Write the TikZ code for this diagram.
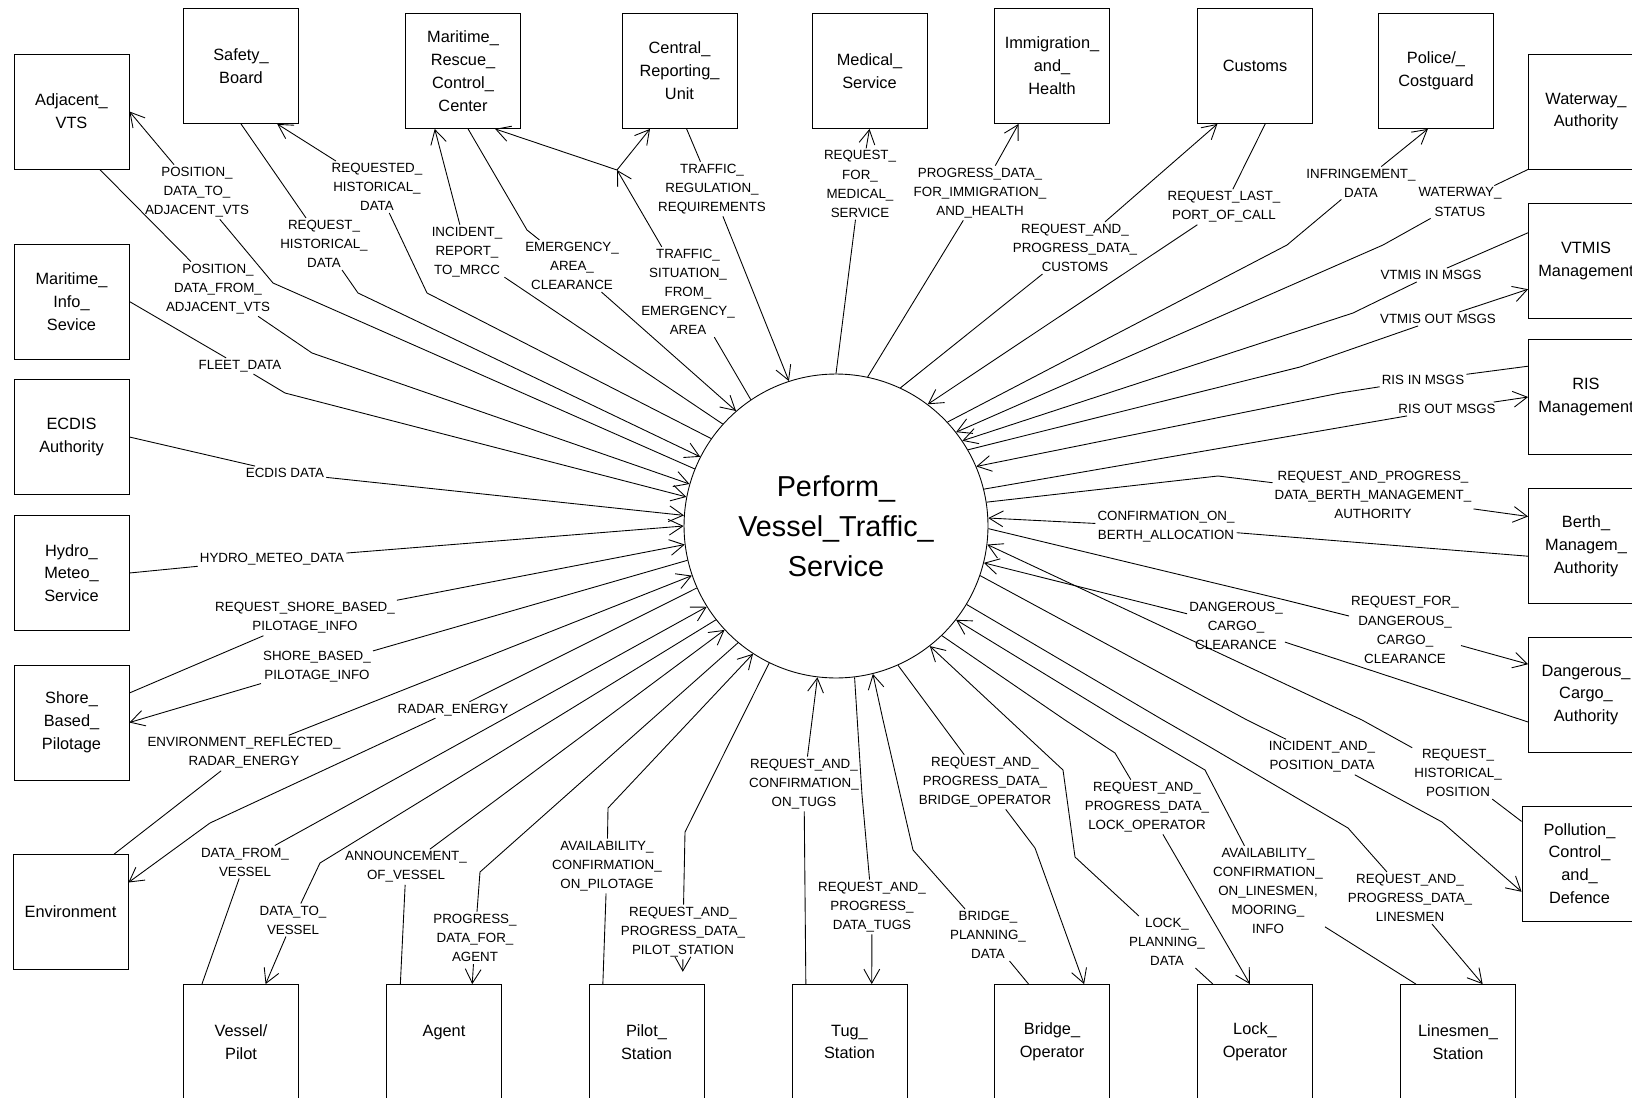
\documentclass[tikz,border=0pt]{standalone}
\usepackage{fontspec}
\setmainfont{Liberation Sans}
\usetikzlibrary{arrows.meta}
\begin{document}
\begin{tikzpicture}[x=0.02cm,y=-0.02cm,line width=0.5pt,
  ext/.style={draw,minimum width=2.3cm,minimum height=2.3cm,align=center,inner sep=1pt,font=\fontsize{9.3}{13}\selectfont},
  proc/.style={draw,circle,minimum size=6.08cm,inner sep=0pt,align=center,font=\fontsize{16.4}{22.7}\selectfont},
  lbl/.style={align=center,inner sep=1pt,font=\fontsize{7.6}{10.9}\selectfont},
  flow/.style={-{Straight Barb[length=8pt,width=9pt]}}]
\useasboundingbox (0,0) rectangle (1632,1098);
% process
\node[proc] (vts) at (836,526) {Perform\_\\Vessel\_Traffic\_\\Service};
% terminators
\node[ext] (AdjVTS) at (71.5,111.5) {Adjacent\_\\VTS};
\node[ext] (Safety) at (241,66) {Safety\_\\Board};
\node[ext] (MRCC) at (463,71) {Maritime\_\\Rescue\_\\Control\_\\Center};
\node[ext] (CRU) at (679.5,71) {Central\_\\Reporting\_\\Unit};
\node[ext] (Medical) at (869.5,71) {Medical\_\\Service};
\node[ext] (Immig) at (1052,66) {Immigration\_\\and\_\\Health};
\node[ext] (Customs) at (1255,66) {Customs};
\node[ext] (Police) at (1436,71) {Police/\_\\Costguard};
\node[ext] (Waterway) at (1586,111.5) {Waterway\_\\Authority};
\node[ext] (VTMIS) at (1586,261) {VTMIS\\Management};
\node[ext] (RIS) at (1586,397) {RIS\\Management};
\node[ext] (Berth) at (1586,546) {Berth\_\\Managem\_\\Authority};
\node[ext] (DCA) at (1586,695) {Dangerous\_\\Cargo\_\\Authority};
\node[ext] (Pollution) at (1579.5,863.5) {Pollution\_\\Control\_\\and\_\\Defence};
\node[ext] (MarInfo) at (71.5,301.5) {Maritime\_\\Info\_\\Sevice};
\node[ext] (ECDIS) at (71.5,437) {ECDIS\\Authority};
\node[ext] (Hydro) at (71.5,573) {Hydro\_\\Meteo\_\\Service};
\node[ext] (Shore) at (71.5,722.5) {Shore\_\\Based\_\\Pilotage};
\node[ext] (Env) at (70.5,912) {Environment};
\node[ext] (Vessel) at (241,1042) {Vessel/\\Pilot};
\node[ext] (Agent) at (444,1042) {Agent\\\mbox{}};
\node[ext] (PilotSt) at (646.5,1042) {Pilot\_\\Station};
\node[ext] (Tug) at (849.5,1042) {Tug\_\\Station};
\node[ext] (Bridge) at (1052,1042) {Bridge\_\\Operator};
\node[ext] (Lock) at (1255,1042) {Lock\_\\Operator};
\node[ext] (Linesmen) at (1458,1042) {Linesmen\_\\Station};
% flow labels
\node[lbl] (posTo) at (197,192) {POSITION\_\\DATA\_TO\_\\ADJACENT\_VTS};
\node[lbl] (posFrom) at (218,289) {POSITION\_\\DATA\_FROM\_\\ADJACENT\_VTS};
\node[lbl] (reqHist) at (324,244) {REQUEST\_\\HISTORICAL\_\\DATA};
\node[lbl] (requested) at (377,187) {REQUESTED\_\\HISTORICAL\_\\DATA};
\node[lbl] (incident) at (467,252) {INCIDENT\_\\REPORT\_\\TO\_MRCC};
\node[lbl] (emergency) at (572,266) {EMERGENCY\_\\AREA\_\\CLEARANCE};
\node[lbl] (trafSit) at (688,292) {TRAFFIC\_\\SITUATION\_\\FROM\_\\EMERGENCY\_\\AREA};
\node[lbl] (trafReg) at (712,189) {TRAFFIC\_\\REGULATION\_\\REQUIREMENTS};
\node[lbl] (medical) at (860,184) {REQUEST\_\\FOR\_\\MEDICAL\_\\SERVICE};
\node[lbl] (immig) at (980,193) {PROGRESS\_DATA\_\\FOR\_IMMIGRATION\_\\AND\_HEALTH};
\node[lbl] (customsReq) at (1075,248) {REQUEST\_AND\_\\PROGRESS\_DATA\_\\CUSTOMS};
\node[lbl] (lastPort) at (1224,207) {REQUEST\_LAST\_\\PORT\_OF\_CALL};
\node[lbl] (infring) at (1361,183) {INFRINGEMENT\_\\DATA};
\node[lbl] (waterway) at (1460,202) {WATERWAY\_\\STATUS};
\node[lbl] (vtmisIn) at (1431,275) {VTMIS IN MSGS};
\node[lbl] (vtmisOut) at (1438,319) {VTMIS OUT MSGS};
\node[lbl] (risIn) at (1423,380) {RIS IN MSGS};
\node[lbl] (risOut) at (1447,409) {RIS OUT MSGS};
\node[lbl] (reqBerth) at (1373,495) {REQUEST\_AND\_PROGRESS\_\\DATA\_BERTH\_MANAGEMENT\_\\AUTHORITY};
\node[lbl] (confBerth) at (1166,527) {CONFIRMATION\_ON\_\\BERTH\_ALLOCATION};
\node[lbl] (reqDang) at (1405,630) {REQUEST\_FOR\_\\DANGEROUS\_\\CARGO\_\\CLEARANCE};
\node[lbl] (dangCl) at (1236,626) {DANGEROUS\_\\CARGO\_\\CLEARANCE};
\node[lbl] (incPos) at (1322,757) {INCIDENT\_AND\_\\POSITION\_DATA};
\node[lbl] (reqHistPos) at (1458,773) {REQUEST\_\\HISTORICAL\_\\POSITION};
\node[lbl] (reqLines) at (1410,898) {REQUEST\_AND\_\\PROGRESS\_DATA\_\\LINESMEN};
\node[lbl] (availLines) at (1268,891) {AVAILABILITY\_\\CONFIRMATION\_\\ON\_LINESMEN,\\MOORING\_\\INFO};
\node[lbl] (reqLock) at (1147,807) {REQUEST\_AND\_\\PROGRESS\_DATA\_\\LOCK\_OPERATOR};
\node[lbl] (lockPlan) at (1167,942) {LOCK\_\\PLANNING\_\\DATA};
\node[lbl] (reqBridge) at (985,782) {REQUEST\_AND\_\\PROGRESS\_DATA\_\\BRIDGE\_OPERATOR};
\node[lbl] (bridgePlan) at (988,935) {BRIDGE\_\\PLANNING\_\\DATA};
\node[lbl] (reqTugs) at (872,907) {REQUEST\_AND\_\\PROGRESS\_\\DATA\_TUGS};
\node[lbl] (reqConfTugs) at (804,784) {REQUEST\_AND\_\\CONFIRMATION\_\\ON\_TUGS};
\node[lbl] (reqPilot) at (683,932) {REQUEST\_AND\_\\PROGRESS\_DATA\_\\PILOT\_STATION};
\node[lbl] (availPilot) at (607,866) {AVAILABILITY\_\\CONFIRMATION\_\\ON\_PILOTAGE};
\node[lbl] (progAgent) at (475,938) {PROGRESS\_\\DATA\_FOR\_\\AGENT};
\node[lbl] (announce) at (406,867) {ANNOUNCEMENT\_\\OF\_VESSEL};
\node[lbl] (dataTo) at (293,920) {DATA\_TO\_\\VESSEL};
\node[lbl] (dataFrom) at (245,862) {DATA\_FROM\_\\VESSEL};
\node[lbl] (envRef) at (244,753) {ENVIRONMENT\_REFLECTED\_\\RADAR\_ENERGY};
\node[lbl] (radar) at (453,710) {RADAR\_ENERGY};
\node[lbl] (shoreInfo) at (317,667) {SHORE\_BASED\_\\PILOTAGE\_INFO};
\node[lbl] (reqShore) at (305,618) {REQUEST\_SHORE\_BASED\_\\PILOTAGE\_INFO};
\node[lbl] (hydro) at (272,559) {HYDRO\_METEO\_DATA};
\node[lbl] (ecdis) at (285,473) {ECDIS DATA};
\node[lbl] (fleet) at (240,366) {FLEET\_DATA};
\coordinate (fork) at (617,170);
% flows, top left
\draw[flow] (vts.158) -- (273,283) -- (posTo) -- (AdjVTS.east);
\draw[flow] (AdjVTS.-64) -- (posFrom) -- (312,353) -- (vts.164);
\draw[flow] (Safety.south) -- (reqHist) -- (358,293) -- (vts.153);
\draw[flow] (vts.145) -- (427,293) -- (requested) -- (Safety.-58);
\draw[flow] (vts.138.5) -- (incident) -- (MRCC.-116);
\draw[flow] (MRCC.-85) -- (527,230) -- (emergency) -- (vts.131.6);
\draw[flow] (vts.124) -- (trafSit) -- (fork);
\draw[flow] (fork) -- (CRU.-117);
\draw[flow] (fork) -- (MRCC.-61);
\draw[flow] (CRU.-83) -- (trafReg) -- (vts.108);
% flows, top right
\draw[flow] (vts.90) -- (medical) -- (Medical.south);
\draw[flow] (vts.78) -- (immig) -- (Immig.-120.6);
\draw[flow] (vts.65) -- (customsReq) -- (Customs.-123);
\draw[flow] (Customs.-80) -- (lastPort) -- (vts.53);
\draw[flow] (vts.43) -- (1287,245) -- (infring) -- (Police.-98);
\draw[flow] (Waterway.south west) -- (waterway) -- (1383,245) -- (vts.38);
\draw[flow] (VTMIS.154) -- (vtmisIn) -- (1353,313) -- (vts.34);
\draw[flow] (vts.30) -- (1300,367) -- (vtmisOut) -- (VTMIS.206.6);
\draw[flow] (RIS.152.6) -- (risIn) -- (1340,393) -- (vts.23);
\draw[flow] (vts.14) -- (1210,450) -- (risOut) -- (RIS.west);
\draw[flow] (vts.9) -- (1218,476) -- (reqBerth) -- (Berth.153.4);
\draw[flow] (Berth.190.7) -- (confBerth) -- (vts.3.7);
\draw[flow] (vts.-1) -- (1285,600) -- (reqDang) -- (DCA.152.6);
\draw[flow] (DCA.205.8) -- (dangCl) -- (vts.-14.5);
\draw[flow] (Pollution.144.8) -- (reqHistPos) -- (1362,720) -- (vts.-7);
\draw[flow] (vts.-19.6) -- (1247,720) -- (incPos) -- (1442,822) -- (Pollution.206.4);
% flows, bottom
\draw[flow] (vts.-31.5) -- (1163,720) -- (1210,747) -- (1348,828) -- (reqLines) -- (Linesmen.67.3);
\draw[flow] (Linesmen.126.8) -- (availLines) -- (1205,770) -- (1120,720) -- (vts.-38.4);
\draw[flow] (vts.-46) -- (1065,720) -- (1115,753) -- (reqLock) -- (Lock.95);
\draw[flow] (Lock.126.8) -- (lockPlan) -- (1075,857) -- (1063,770) -- (vts.-52.8);
\draw[flow] (vts.-66.8) -- (963,753) -- (reqBridge) -- (1035,848) -- (Bridge.61.7);
\draw[flow] (Bridge.112.7) -- (bridgePlan) -- (913,850) -- (883,720) -- (vts.-76.5);
\draw[flow] (vts.-83) -- (862,795) -- (reqTugs) -- (Tug.69.5);
\draw[flow] (Tug.127.7) -- (reqConfTugs) -- (vts.-97.8);
\draw[flow,shorten >=7pt] (vts.244.3) -- (685,832) -- (reqPilot) -- (PilotSt.58.3);
\draw[flow] (PilotSt.127.1) -- (availPilot) -- (608,808) -- (vts.237.7);
\draw[flow] (vts.230.5) -- (480,872) -- (progAgent) -- (Agent.64);
\draw[flow] (Agent.127.4) -- (announce) -- (vts.223.4);
\draw[flow] (vts.218) -- (320,863) -- (dataTo) -- (Vessel.67.3);
\draw[flow] (Vessel.124) -- (dataFrom) -- (vts.212);
% flows, left
\draw[flow] (vts.204.4) -- (radar) -- (210,823) -- (Env.27.5);
\draw[flow] (Env.53.5) -- (envRef) -- (vts.199.4);
\draw[flow] (vts.193.6) -- (shoreInfo) -- (Shore.east);
\draw[flow] (Shore.27.2) -- (reqShore) -- (vts.187);
\draw[flow] (Hydro.east) -- (hydro) -- (vts.180.4);
\draw[flow] (ECDIS.east) -- (ecdis) -- (vts.176);
\draw[flow] (MarInfo.east) -- (fleet) -- (285,393) -- (vts.169);
\end{tikzpicture}
\end{document}
